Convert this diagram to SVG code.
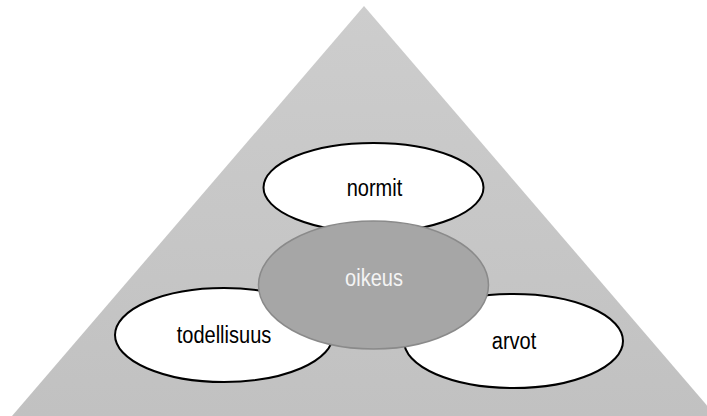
<svg xmlns="http://www.w3.org/2000/svg" width="707" height="416" viewBox="0 0 707 416">
<defs>
<linearGradient id="tri" x1="0" y1="0" x2="0" y2="1">
<stop offset="0" stop-color="#cdcdcd"/>
<stop offset="1" stop-color="#c1c1c1"/>
</linearGradient>
</defs>
<style>
.w{fill:#ffffff;stroke:#000000;stroke-width:2}
.c{fill:#a6a6a6;stroke:#8a8a8a;stroke-width:1.5}
.t{font-family:"Liberation Sans",Arial,sans-serif;font-size:23px;text-anchor:middle;fill:#000000}
.tw{fill:#f4f4f4}
</style>
<polygon id="pyramid" points="364,6 12,416 716,416" fill="url(#tri)"/>
<g id="connectors"></g>
<g id="normit">
<ellipse class="w" cx="373.5" cy="187.5" rx="110" ry="44.5"/>
<text class="t" transform="translate(374.5,196) scale(0.87,1)">normit</text>
</g>
<g id="todellisuus">
<ellipse class="w" cx="224" cy="335" rx="109" ry="47"/>
<text class="t" transform="translate(224,343) scale(0.87,1)">todellisuus</text>
</g>
<g id="arvot">
<ellipse class="w" cx="513.5" cy="341" rx="109.5" ry="47"/>
<text class="t" transform="translate(514,349) scale(0.87,1)">arvot</text>
</g>
<g id="oikeus">
<ellipse class="c" cx="373.5" cy="285" rx="115" ry="64"/>
<text class="t tw" transform="translate(374,286) scale(0.87,1)">oikeus</text>
</g>
</svg>
